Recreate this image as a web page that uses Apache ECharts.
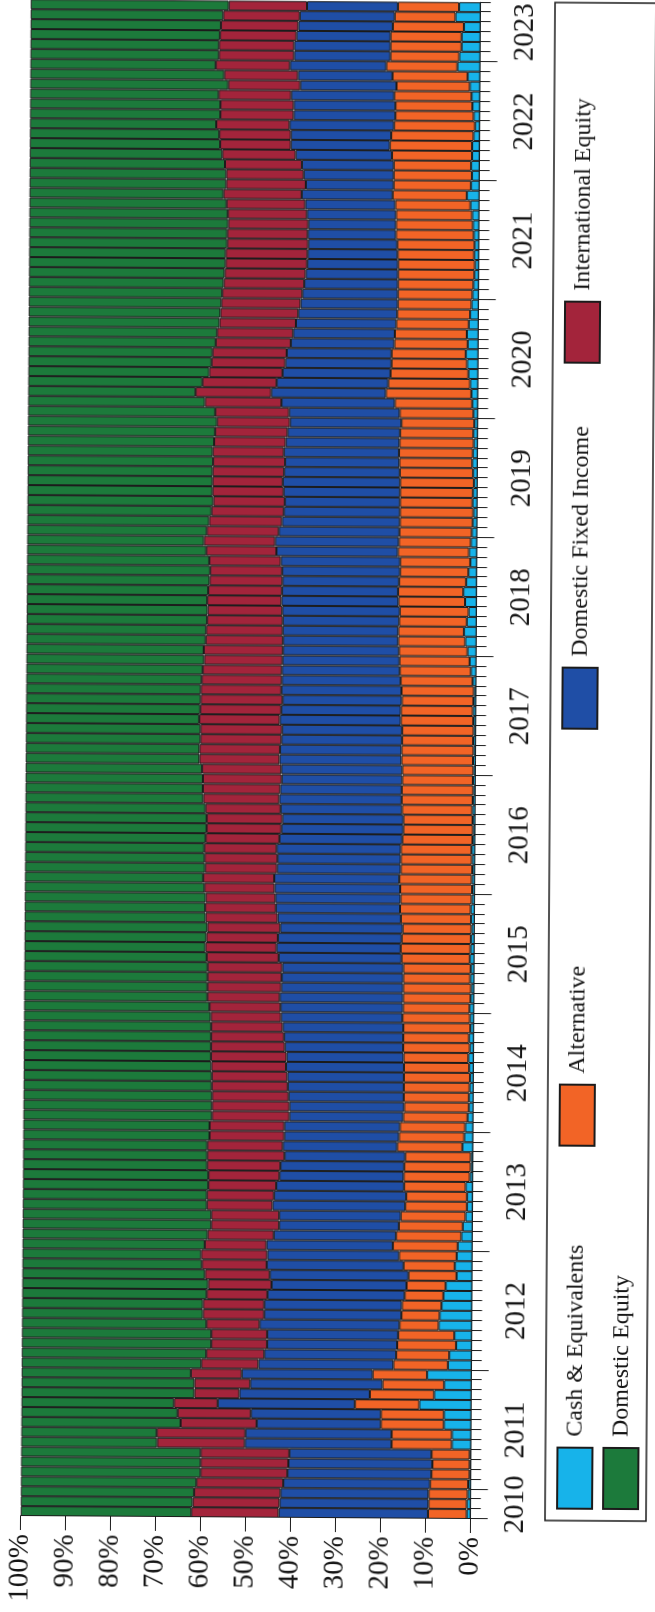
<!DOCTYPE html>
<html>
<head>
<meta charset="utf-8">
<script src="https://cdn.jsdelivr.net/npm/echarts@6/dist/echarts.min.js"></script>
<style>
html,body{margin:0;padding:0;background:#fff;overflow:hidden;width:655px;height:1612px;}
#chart{position:absolute;left:0;top:0;width:1612px;height:655px;transform-origin:0 0;
transform:translate(470px,1519px) rotate(0.38deg) translate(-470px,-1519px) translate(0px,1612px) rotate(-90deg);}
</style>
</head>
<body>
<div id="chart"></div>
<script>
// ---- data (monthly, Oct 2010 .. Jun 2023), percent of portfolio ----
const START_YEAR = 2010, START_MONTH = 10;
const years = ['2010','2011','2012','2013','2014','2015','2016','2017','2018','2019','2020','2021','2022','2023'];
const seriesNames = ['Cash & Equivalents','Alternative','Domestic Fixed Income','International Equity','Domestic Equity'];

const cash = [0.9,0.9,0.7,0.6,0.3,0.3,0.3,4.3,4.3,6.1,6.1,11.6,8.3,6.1,9.9,5.3,5.0,3.5,3.9,7.4,7.2,6.8,6.4,5.9,3.5,3.9,3.5,3.3,2.5,2.2,1.6,1.3,1.3,1.6,0.7,0.5,0.5,2.4,2.0,1.8,1.3,1.0,
1.0,0.9,0.8,1.0,1.2,0.9,1.1,0.8,0.9,
1.0,0.8,0.7,0.9,0.8,1.0,0.9,0.8,0.7,0.8,0.9,0.7,
0.6,0.7,0.6,0.7,0.8,0.6,0.5,0.6,0.7,0.6,0.5,0.6,
0.5,0.6,0.5,0.6,0.5,0.6,0.7,0.6,0.5,0.8,1.2,1.5,
2.0,2.5,2.8,2.2,1.8,2.6,3.0,2.4,1.9,1.5,1.8,1.4,
1.2,1.0,0.9,1.1,1.0,0.8,1.0,1.2,1.1,0.9,1.0,0.8,
1.0,1.3,1.5,1.8,2.2,2.5,2.8,2.4,2.6,2.2,1.9,1.6,
1.4,1.2,1.0,0.9,1.1,1.0,1.2,1.4,1.6,2.0,
2.8,1.9,1.7,1.9,1.7,1.7,1.4,1.1,1.4,1.7,1.9,2.3,2.8,5.1,4.7,4.2,4.2,3.7,5.6,4.8];

const alternative = [8.6,8.5,8.7,8.5,8.5,8.3,8.5,13.4,13.4,14.0,14.0,14.3,14.3,13.7,12.1,12.1,11.8,13.1,12.5,8.7,8.5,8.8,8.6,8.7,10.7,11.4,12.8,14.4,14.5,14.2,14.4,13.7,13.5,13.7,14.7,14.8,14.6,14.5,14.5,14.5,14.3,14.4,
14.5,14.6,14.7,14.5,14.4,14.8,14.6,14.9,15.0,
14.8,15.0,15.1,14.9,15.0,15.2,15.5,15.4,15.3,15.6,15.7,15.8,
16.0,16.1,15.9,15.8,15.7,15.6,15.5,15.4,15.6,15.8,15.9,15.7,
15.8,15.9,16.0,15.8,15.9,16.1,16.0,15.9,16.1,16.0,15.8,15.6,
15.2,14.9,14.6,15.0,15.3,14.8,14.5,14.9,15.2,15.6,15.8,16.0,
16.1,16.2,16.3,16.1,16.2,16.4,16.3,16.2,16.4,16.5,16.3,16.2,
16.4,17.2,19.0,18.2,17.3,16.8,16.5,16.3,16.0,16.1,16.2,16.4,
16.6,16.8,17.0,17.1,17.0,17.2,17.3,17.1,16.9,16.7,
16.5,17.2,17.4,17.2,17.8,18.3,18.3,18.0,17.4,17.1,17.2,16.3,16.7,15.8,15.3,15.8,15.8,15.8,13.5,13.6];

const domesticFixedIncome = [33.2,33.1,32.9,32.6,32.0,32.0,31.6,32.6,32.5,27.6,28.9,30.5,29.0,29.4,29.1,30.0,29.3,28.9,29.1,31.1,30.5,30.6,30.5,30.0,30.8,30.4,29.3,28.1,27.2,26.6,27.0,29.5,29.4,28.4,27.6,27.5,26.8,25.4,25.5,25.7,25.3,25.5,
25.6,25.8,25.9,26.2,26.0,26.3,26.5,26.8,27.0,
27.2,27.4,27.1,27.0,26.9,27.3,27.6,27.5,27.2,27.4,27.6,27.8,
27.9,27.8,27.5,27.4,27.6,27.3,27.1,26.9,27.0,27.2,27.0,26.8,
26.9,27.1,27.0,26.8,26.7,26.9,26.6,26.5,26.7,26.4,26.2,26.0,
25.8,25.6,25.7,25.9,26.1,26.0,25.8,25.9,26.2,26.5,27.0,27.5,
26.8,26.2,25.8,25.6,25.9,26.1,25.7,25.4,25.6,25.3,25.0,24.8,
24.6,25.2,25.5,24.8,24.0,23.6,23.3,23.0,22.6,22.3,22.0,21.6,
21.2,20.8,20.5,20.2,20.0,19.8,19.6,19.5,19.8,20.0,
20.2,19.5,20.0,20.4,21.4,22.0,22.3,23.2,22.6,22.6,22.9,21.4,21.0,21.4,21.4,21.4,20.9,21.0,21.1,20.2];

const internationalEquity = [19.4,19.3,19.2,19.3,19.3,19.5,19.7,19.5,19.7,16.9,16.3,9.7,10.0,12.4,11.3,12.7,12.9,12.4,12.4,11.8,13.6,13.6,13.5,14.1,14.4,14.4,14.7,13.7,14.7,15.1,15.1,14.6,14.9,15.1,15.8,16.3,17.2,16.8,16.6,16.6,17.2,17.2,
17.0,16.9,16.8,16.6,16.8,16.4,16.2,15.9,15.6,
15.8,16.1,16.4,16.5,16.6,16.0,15.8,15.9,16.2,16.0,15.7,15.5,
15.6,15.8,16.0,16.2,16.1,16.4,16.6,16.8,16.7,16.9,17.2,17.5,
17.6,17.8,17.9,18.0,18.1,17.9,18.0,18.2,17.9,17.8,17.6,17.4,
17.6,17.2,17.0,16.8,16.6,16.5,16.4,16.2,16.0,15.9,15.6,15.8,
16.0,16.2,16.1,15.9,15.8,15.6,15.9,16.0,15.8,15.9,16.1,16.2,
16.4,17.0,16.8,16.5,16.3,16.4,16.5,16.7,16.9,17.0,17.3,17.6,
17.8,17.9,18.0,18.1,18.2,18.0,17.9,17.8,17.6,17.5,
17.4,17.7,17.2,17.1,16.3,15.7,15.9,16.3,16.3,16.3,16.1,16.0,16.4,16.5,16.7,16.7,17.0,17.2,17.0,17.4];

const domesticEquity = [37.9,38.2,38.5,39.0,39.9,39.9,39.9,30.2,30.1,35.4,34.7,33.9,38.4,38.4,37.6,39.9,41.0,42.1,42.1,41.0,40.2,40.2,41.0,41.3,40.6,39.9,39.7,40.5,41.1,41.9,41.9,40.9,40.9,41.2,41.2,40.9,40.9,40.9,41.4,41.4,41.9,41.9,
41.9,41.8,41.8,41.7,41.6,41.6,41.6,41.6,41.5,
41.2,40.7,40.7,40.7,40.7,40.5,40.2,40.4,40.6,40.2,40.1,40.2,
39.9,39.6,40.0,39.9,39.8,40.1,40.3,40.3,40.0,39.5,39.4,39.4,
39.2,38.6,38.6,38.8,38.8,38.5,38.7,38.8,38.8,39.0,39.2,39.5,
39.4,39.8,39.9,40.1,40.2,40.1,40.3,40.6,40.7,40.5,39.8,39.3,
39.9,40.4,40.9,41.3,41.1,41.1,41.1,41.2,41.1,41.4,41.6,42.0,
41.6,39.3,37.2,38.7,40.2,40.7,40.9,41.6,41.9,42.4,42.6,42.8,
43.0,43.3,43.5,43.7,43.7,44.0,44.0,44.2,44.1,43.8,
43.1,43.7,43.7,43.4,42.8,42.3,42.1,41.4,42.3,42.3,41.9,44.0,43.1,41.2,41.9,41.9,42.1,42.3,42.8,44.0];

const colors = ['#17b3ea','#f26426','#1f4ea6','#a3243b','#1c7a3b'];

// ---- axis categories ----
const months = [];
for (let i = 0; i < cash.length; i++) {
  const m0 = START_MONTH - 1 + i;
  const y = START_YEAR + Math.floor(m0 / 12);
  const m = (m0 % 12) + 1;
  months.push(y + '-' + (m < 10 ? '0' + m : m));
}
// half-bar steps for year ticks / centred year labels
const halfSteps = [];
for (let k = 0; k <= months.length * 2; k++) halfSteps.push(String(k));
const yearBoundary = {}, yearCentre = {};
years.forEach(function (yr) {
  let first = -1, cnt = 0;
  months.forEach(function (mm, i) { if (mm.slice(0, 4) === yr) { if (first < 0) first = i; cnt++; } });
  if (first >= 0) { yearBoundary[2 * first] = true; yearCentre[2 * first + cnt] = yr; }
});

const FONT = 'Liberation Serif';
const values = [cash, alternative, domesticFixedIncome, internationalEquity, domesticEquity];

const chart = echarts.init(document.getElementById('chart'), null, {renderer: 'canvas'});
const series = seriesNames.map(function (name, i) {
  return {
    name: name, type: 'bar', stack: 'total', data: values[i], xAxisIndex: 0,
    barCategoryGap: '0%', barGap: '0%',
    itemStyle: {color: colors[i], borderColor: '#1b1b1b', borderWidth: 1},
    emphasis: {disabled: true}, animation: false
  };
});

function legendAt(name, left, top) {
  return {
    data: [name], left: left, top: top, padding: 0, orient: 'horizontal',
    itemWidth: 61, itemHeight: 35, icon: 'rect', itemGap: 0, selectedMode: false,
    textStyle: {fontFamily: FONT, fontSize: 24, color: '#151515', padding: [0, 0, 0, 6]}
  };
}

chart.setOption({
  backgroundColor: '#ffffff',
  animation: false,
  grid: {left: 93, right: 0, top: 20.7, bottom: 184.3},
  xAxis: [
    {
      type: 'category', data: months, position: 'bottom', boundaryGap: true,
      axisLine: {show: true, lineStyle: {color: '#1b1b1b', width: 1}},
      axisTick: {show: true, interval: 0, length: 10, lineStyle: {color: '#1b1b1b', width: 1}},
      axisLabel: {show: false}, splitLine: {show: false}
    },
    {
      type: 'category', data: halfSteps, position: 'bottom', boundaryGap: false,
      axisLine: {show: false},
      axisTick: {show: true, length: 17, interval: function (idx) { return !!yearBoundary[idx]; },
                 lineStyle: {color: '#1b1b1b', width: 1}},
      axisLabel: {show: true, interval: function (idx) { return yearCentre[idx] !== undefined; },
                  formatter: function (v, idx) { return yearCentre[idx] || ''; },
                  fontFamily: FONT, fontSize: 29, color: '#151515', margin: 30},
      splitLine: {show: false}
    }
  ],
  yAxis: {
    type: 'value', min: 0, max: 100, interval: 10, position: 'left',
    axisLine: {show: true, lineStyle: {color: '#1b1b1b', width: 1}},
    axisTick: {show: true, length: 14, lineStyle: {color: '#1b1b1b', width: 1}},
    splitLine: {show: false},
    axisLabel: {formatter: '{value}%', fontFamily: FONT, fontSize: 29, color: '#151515', margin: 18}
  },
  legend: [
    legendAt(seriesNames[0], 103, 556),
    legendAt(seriesNames[1], 466, 556),
    legendAt(seriesNames[2], 883, 556),
    legendAt(seriesNames[3], 1249, 556),
    legendAt(seriesNames[4], 103, 602)
  ],
  graphic: [{
    type: 'rect', silent: true,
    shape: {x: 92, y: 545, width: 1518, height: 101},
    style: {fill: 'none', stroke: '#1b1b1b', lineWidth: 1.5}
  }],
  series: series
});
</script>
</body>
</html>
